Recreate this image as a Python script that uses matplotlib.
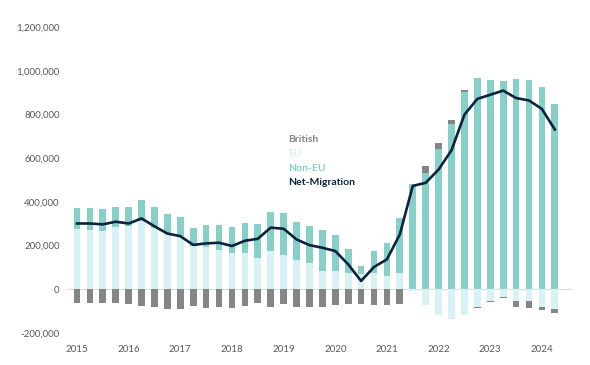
import numpy as np
import matplotlib
matplotlib.use('Agg')
import matplotlib.pyplot as plt
from matplotlib.ticker import FuncFormatter

plt.rcParams['font.family'] = ['Lato', 'DejaVu Sans']

# quarterly values in thousands, starting 2015 Q1
eu = [278, 270, 266, 286, 289, 312, 282, 251, 243, 198, 193, 180, 166, 164, 145,
      175, 157, 132, 119, 84, 84, 76, 68, 76, 61, 76, -10, -73, -119, -137, -119,
      -81, -54, -35, -52, -52, -82, -88]
non_eu = [95, 103, 102, 90, 87, 96, 96, 95, 89, 84, 100, 113, 119, 140, 152,
          178, 190, 177, 170, 185, 164, 110, 37, 99, 152, 251, 480, 533, 642, 757,
          903, 967, 959, 954, 962, 959, 925, 848]
british = [-64, -64, -61, -61, -68, -76, -82, -91, -88, -76, -84, -79, -87, -76, -64,
           -79, -68, -79, -79, -79, -73, -68, -68, -73, -73, -68, 0, 30, 28, 19,
           10, -5, -5, -5, -30, -32, -14, -20]
net = [301, 301, 297, 309, 301, 324, 288, 255, 243, 203, 210, 213, 198, 222, 231,
       282, 277, 228, 202, 190, 175, 114, 38, 102, 137, 251, 473, 487, 548, 636,
       799, 871, 890, 909, 875, 864, 825, 731]
years = list(range(2015, 2025))

eu = np.array(eu) * 1000
non_eu = np.array(non_eu) * 1000
british = np.array(british) * 1000
net = np.array(net) * 1000
x = 2015 + np.arange(len(net)) / 4

c_brit = '#858585'
c_eu = '#d8f1f4'
c_non = '#86d0c8'
c_net = '#0c2340'
c_txt = '#595959'

fig = plt.figure(figsize=(5.9, 3.65), dpi=100)
ax = fig.add_axes([0.113, 0.0877, 0.858, 0.8383])

w = 0.13
ax.axhline(0, color='#dcdcdc', lw=0.8, zorder=0)
ax.bar(x, eu, width=w, color=c_eu, label='EU', zorder=2)
non_bottom = np.maximum(eu, 0)
ax.bar(x, non_eu, width=w, bottom=non_bottom, color=c_non, label='Non-EU', zorder=2)
brit_bottom = np.where(british >= 0, non_bottom + non_eu, np.minimum(eu, 0))
ax.bar(x, british, width=w, bottom=brit_bottom, color=c_brit, label='British', zorder=2)
ax.plot(x, net, color=c_net, lw=1.9, label='Net-Migration', zorder=3)

ax.set_ylim(-200000, 1200000)
ax.set_xlim(2014.8, 2024.6)
ax.set_yticks(np.arange(-200000, 1200001, 200000))
ax.yaxis.set_major_formatter(FuncFormatter(lambda v, p: f'{int(v):,}'))
ax.set_xticks(years)
ax.tick_params(length=0, labelsize=7, colors=c_txt)
ax.tick_params(axis='x', pad=9)
ax.tick_params(axis='y', pad=5)
for s in ax.spines.values():
    s.set_visible(False)

h, l = ax.get_legend_handles_labels()
order = [l.index(n) for n in ['British', 'EU', 'Non-EU', 'Net-Migration']]
leg = ax.legend([h[i] for i in order], [l[i] for i in order],
                loc='upper left', bbox_to_anchor=(279 / 590, 1 - 125 / 365),
                bbox_transform=fig.transFigure, frameon=False,
                handlelength=0, handletextpad=0, labelspacing=0.5,
                labelcolor=[c_brit, c_eu, c_non, c_net],
                prop={'size': 7.5, 'weight': 'bold'})
for hd in leg.legend_handles:
    hd.set_visible(False)

fig.savefig('out.png', dpi=100)
